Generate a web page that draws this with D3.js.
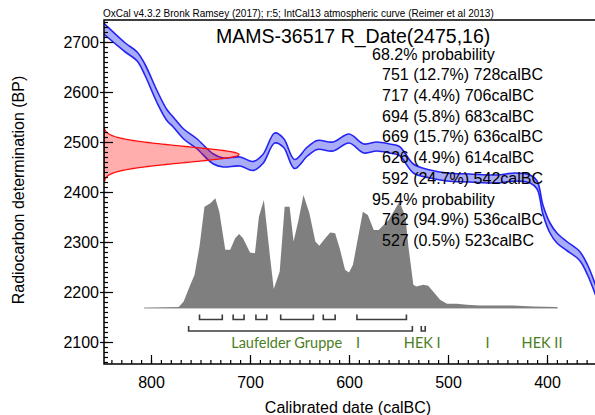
<!DOCTYPE html>
<html>
<head>
<meta charset="utf-8">
<script src="https://cdn.jsdelivr.net/npm/d3@7"></script>
<style>
body{margin:0;background:#fff;}
svg{display:block;font-family:Arial,"Liberation Sans",sans-serif;}
</style>
</head>
<body>
<div id="chart"></div>
<script>
// IntCal13 band: cal BC, 14C BP, 1 sigma
let curveYears = [849,826,814,806,794,784,778,767,754,737,727,710,697,687,675,666,655,642,632,616,600,585,572,559,549,535,518,501,478,451,432,417,410,404,397,390,380,367,359,351];
let curveBP    = [2729,2689,2671,2644,2591,2554,2541,2516,2497,2466,2459,2461,2452,2466,2508,2498,2456,2481,2494,2491,2507,2487,2491,2487,2482,2447,2436,2430,2428,2426,2430,2426,2414,2364,2328,2308,2292,2272,2244,2204];
let curveErr   = [11,9,9,11,12,11,10,10,10,10,9,9,9,9,10,9,9,9,9,9,9,9,9,9,9,9,8,8,8,8,8,8,8,9,10,10,9,9,10,10];

// the date
let dateMean = 2475;
let dateSd = 16;

// posterior probability (relative)
let probYears   = [806,772,767,761,756,751,746,740,735,731,725,720,715,711,707,700,695,691,686,680,676,670,665,660,656,651,646,640,634,630,624,619,614,609,604,600,596,586,581,575,570,560,555,549,543,540,535,532,525,520,515,508,501,491,481,468,434,414,390];
let probDensity = [0,1,6.6,21.6,33.3,61.6,101.6,105,110,96.6,58.3,58.3,70,74.3,70,55.6,55,91.6,108.3,53.3,19,36.6,101.6,101.6,66.6,88.3,113.3,95,66.6,62.3,70,75.6,75,58.3,38.3,35.6,43.3,96.6,93.3,78.3,78.3,88.3,96.6,106.6,91.6,61.6,23.3,21.6,23.3,22.3,16.6,8.3,4.3,4.3,3.3,2.6,2.6,1.6,1];

let range68 = [[751,728],[717,706],[694,683],[669,636],[626,614],[592,542]];
let range95 = [[762,536],[527,523]];

let headerText = "OxCal v4.3.2 Bronk Ramsey (2017); r:5; IntCal13 atmospheric curve (Reimer et al 2013)";
let titleText = "MAMS-36517 R_Date(2475,16)";
let summaryLines = ["68.2% probability","751 (12.7%) 728calBC","717 (4.4%) 706calBC","694 (5.8%) 683calBC","669 (15.7%) 636calBC","626 (4.9%) 614calBC","592 (24.7%) 542calBC","95.4% probability","762 (94.9%) 536calBC","527 (0.5%) 523calBC"];

let periodNames = ["Laufelder Gruppe","I","HEK I","I","HEK II"];
let periodYears = [663,591,526,460,405];

let xTicks = [800,700,600,500,400];
let yTicks = [2100,2200,2300,2400,2500,2600,2700];

let width = 595, height = 415;
let pLeft = 104, pRight = 598, pTop = 20, pBottom = 364;

let svg = d3.select("#chart").append("svg")
    .attr("width", width)
    .attr("height", height);

let x = d3.scaleLinear().domain([800,400]).range([151,547]);
let y = d3.scaleLinear().domain([2100,2700]).range([342,42]);

svg.append("clipPath").attr("id","plot")
    .append("rect").attr("x",pLeft).attr("y",pTop).attr("width",pRight-pLeft).attr("height",pBottom-pTop);

let plot = svg.append("g").attr("clip-path","url(#plot)");

// calibration curve band
let curve = curveYears.map((d,i) => ({yr:d, bp:curveBP[i], e:curveErr[i]}));
plot.append("path")
    .datum(curve)
    .attr("fill","#a9acf6")
    .attr("d", d3.area().curve(d3.curveCatmullRom)
        .x(d => x(d.yr)).y0(d => y(d.bp - d.e)).y1(d => y(d.bp + d.e)));
[1,-1].forEach(s => {
    plot.append("path")
        .datum(curve)
        .attr("fill","none")
        .attr("stroke","#2323f5")
        .attr("stroke-width",1.6)
        .attr("d", d3.line().curve(d3.curveCatmullRom)
            .x(d => x(d.yr)).y(d => y(d.bp + s*d.e)));
});

// radiocarbon date on the y axis
let gw = d3.scaleLinear().domain([0,1]).range([pLeft,239]);
let gauss = d3.range(-3.3, 3.301, 0.05).map(z => ({bp: dateMean + z*dateSd, p: Math.exp(-0.5*z*z)}));
plot.append("path")
    .datum(gauss)
    .attr("fill","#ff0000")
    .attr("fill-opacity",0.32)
    .attr("stroke","#ff1010")
    .attr("stroke-width",1.3)
    .attr("d", d3.area().curve(d3.curveLinear)
        .y(d => y(d.bp)).x0(pLeft).x1(d => gw(d.p)));

// posterior distribution
let py = d3.scaleLinear().domain([0,113.3]).range([308,195]);
let prob = probYears.map((d,i) => ({yr:d, p:probDensity[i]}));
plot.append("line")
    .attr("x1", x(807)).attr("x2", x(389))
    .attr("y1", py(0)).attr("y2", py(0))
    .attr("stroke","#b4b4b4").attr("stroke-width",1.5);
plot.append("path")
    .datum(prob)
    .attr("fill","#7f7f7f")
    .attr("d", d3.area().x(d => x(d.yr)).y0(py(0)).y1(d => py(d.p)));

// ranges
function brackets(data, y0, y1){
    plot.append("g")
        .selectAll("path")
        .data(data)
        .join("path")
            .attr("fill","none")
            .attr("stroke","#3c3c3c")
            .attr("stroke-width",1.6)
            .attr("d", d => `M${x(d[0])},${y0}V${y1}H${x(d[1])}V${y0}`);
}
brackets(range68, 314.5, 319.5);
brackets(range95, 326, 331);

// cultural periods
plot.append("g")
    .style("font", "14.5px Lato, 'Open Sans', sans-serif")
    .attr("fill","#4b7d22")
    .selectAll("text")
    .data(periodNames)
    .join("text")
        .attr("x", (d,i) => x(periodYears[i]))
        .attr("y", 343)
        .attr("dy","0.35em")
        .attr("text-anchor","middle")
        .text(d => d);

// frame
svg.append("path")
    .attr("fill","none")
    .attr("stroke","#000")
    .attr("stroke-width",1.5)
    .attr("d", `M${pRight},${pTop}H${pLeft}V${pBottom}H${pRight}`);

// x axis
let xMinor = d3.range(350, 850, 10);
svg.append("g")
    .attr("transform",`translate(0,${pBottom})`)
    .call(d3.axisBottom(x).tickValues(xMinor).tickSize(-4).tickFormat(""))
    .call(g => g.select(".domain").remove());
svg.append("g")
    .attr("transform",`translate(0,${pBottom})`)
    .call(d3.axisBottom(x).tickValues(xTicks).tickSize(-9).tickPadding(13).tickFormat(d3.format("d")))
    .call(g => g.select(".domain").remove())
    .call(g => g.selectAll("text").attr("font-family","Arial, 'Liberation Sans', sans-serif").attr("font-size",16));

// y axis
let yMinor = d3.range(2060, 2750, 10);
svg.append("g")
    .attr("transform",`translate(${pLeft},0)`)
    .call(d3.axisRight(y).tickValues(yMinor).tickSize(4).tickFormat(""))
    .call(g => g.select(".domain").remove());
svg.append("g")
    .attr("transform",`translate(${pLeft},0)`)
    .call(d3.axisRight(y).tickValues(yTicks).tickSize(9).tickFormat(""))
    .call(g => g.select(".domain").remove());
svg.append("g")
    .attr("transform",`translate(${pLeft},0)`)
    .call(d3.axisLeft(y).tickValues(yTicks).tickSize(4).tickPadding(1).tickFormat(d3.format("d")))
    .call(g => g.select(".domain").remove())
    .call(g => g.selectAll("text").attr("font-family","Arial, 'Liberation Sans', sans-serif").attr("font-size",16));
svg.selectAll(".tick line").attr("stroke-width",1.2);

// titles
svg.append("text")
    .attr("x", 348).attr("y", 407).attr("dy","0.35em")
    .attr("text-anchor","middle")
    .style("font-size","16px")
    .text("Calibrated date (calBC)");
svg.append("text")
    .attr("transform","translate(18,190) rotate(-90)")
    .attr("dy","0.35em")
    .attr("text-anchor","middle")
    .style("font-size","16px")
    .text("Radiocarbon determination (BP)");

svg.append("text")
    .attr("x", 103).attr("y", 17)
    .style("font-size","10px")
    .text(headerText);

svg.append("text")
    .attr("x", 216).attr("y", 36).attr("dy","0.35em")
    .style("font-size","19.5px")
    .text(titleText);

svg.append("g")
    .style("font-size","16px")
    .selectAll("text")
    .data(summaryLines)
    .join("text")
        .attr("x", d => d.includes("probability") ? 372 : 382)
        .attr("y", (d,i) => 54 + i*20.7)
        .attr("dy","0.35em")
        .text(d => d);
</script>
</body>
</html>
